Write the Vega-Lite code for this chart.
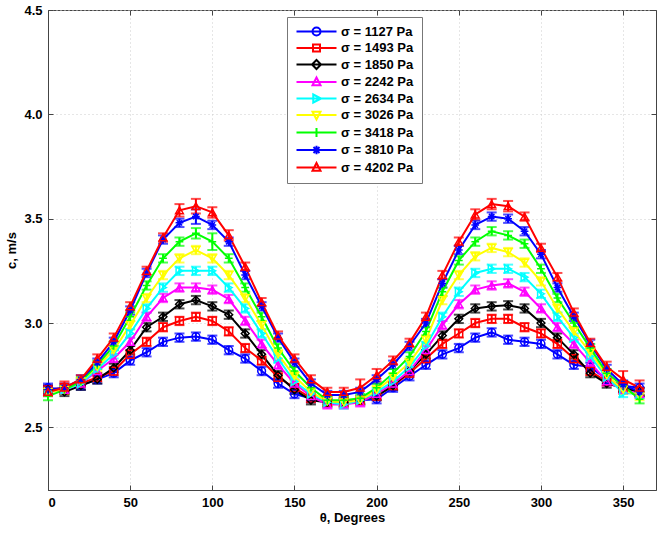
{
 "$schema": "https://vega.github.io/schema/vega-lite/v6.json",
 "width": 608, "height": 480,
 "autosize": {"type": "none"},
 "padding": {"left": 48, "top": 10, "right": 8, "bottom": 44},
 "background": "white",
 "config": {
  "font": "Liberation Sans",
  "view": {"stroke": "#444", "strokeWidth": 1},
  "axis": {"labelFont": "Liberation Sans", "labelFontWeight": "bold", "labelFontSize": 13, "labelColor": "#000", "titleFont": "Liberation Sans", "titleFontWeight": "bold", "titleFontSize": 13, "titleColor": "#000", "domainColor": "#444", "tickColor": "#444", "gridColor": "#cccccc", "gridDash": [1, 3]}
 },
 "data": {"values": [
{"t":0,"p":1127,"c":2.69,"e":0.02},{"t":0,"p":1493,"c":2.68,"e":0.02},{"t":0,"p":1850,"c":2.68,"e":0.02},{"t":0,"p":2242,"c":2.67,"e":0.02},{"t":0,"p":2634,"c":2.67,"e":0.02},{"t":0,"p":3026,"c":2.67,"e":0.02},{"t":0,"p":3418,"c":2.65,"e":0.02},{"t":0,"p":3810,"c":2.68,"e":0.02},{"t":0,"p":4202,"c":2.67,"e":0.02},
{"t":10,"p":1127,"c":2.68,"e":0.02},{"t":10,"p":1493,"c":2.69,"e":0.02},{"t":10,"p":1850,"c":2.67,"e":0.02},{"t":10,"p":2242,"c":2.68,"e":0.02},{"t":10,"p":2634,"c":2.68,"e":0.02},{"t":10,"p":3026,"c":2.68,"e":0.02},{"t":10,"p":3418,"c":2.68,"e":0.02},{"t":10,"p":3810,"c":2.69,"e":0.02},{"t":10,"p":4202,"c":2.69,"e":0.03},
{"t":20,"p":1127,"c":2.70,"e":0.02},{"t":20,"p":1493,"c":2.71,"e":0.02},{"t":20,"p":1850,"c":2.70,"e":0.02},{"t":20,"p":2242,"c":2.71,"e":0.02},{"t":20,"p":2634,"c":2.71,"e":0.02},{"t":20,"p":3026,"c":2.72,"e":0.02},{"t":20,"p":3418,"c":2.72,"e":0.02},{"t":20,"p":3810,"c":2.73,"e":0.02},{"t":20,"p":4202,"c":2.73,"e":0.02},
{"t":30,"p":1127,"c":2.73,"e":0.02},{"t":30,"p":1493,"c":2.74,"e":0.02},{"t":30,"p":1850,"c":2.73,"e":0.02},{"t":30,"p":2242,"c":2.77,"e":0.02},{"t":30,"p":2634,"c":2.78,"e":0.02},{"t":30,"p":3026,"c":2.79,"e":0.02},{"t":30,"p":3418,"c":2.80,"e":0.02},{"t":30,"p":3810,"c":2.81,"e":0.02},{"t":30,"p":4202,"c":2.83,"e":0.02},
{"t":40,"p":1127,"c":2.76,"e":0.02},{"t":40,"p":1493,"c":2.77,"e":0.02},{"t":40,"p":1850,"c":2.785,"e":0.02},{"t":40,"p":2242,"c":2.83,"e":0.02},{"t":40,"p":2634,"c":2.85,"e":0.02},{"t":40,"p":3026,"c":2.87,"e":0.02},{"t":40,"p":3418,"c":2.89,"e":0.02},{"t":40,"p":3810,"c":2.91,"e":0.02},{"t":40,"p":4202,"c":2.93,"e":0.02},
{"t":50,"p":1127,"c":2.82,"e":0.02},{"t":50,"p":1493,"c":2.85,"e":0.02},{"t":50,"p":1850,"c":2.87,"e":0.02},{"t":50,"p":2242,"c":2.91,"e":0.02},{"t":50,"p":2634,"c":2.95,"e":0.02},{"t":50,"p":3026,"c":2.99,"e":0.02},{"t":50,"p":3418,"c":3.03,"e":0.02},{"t":50,"p":3810,"c":3.06,"e":0.02},{"t":50,"p":4202,"c":3.08,"e":0.02},
{"t":60,"p":1127,"c":2.86,"e":0.02},{"t":60,"p":1493,"c":2.91,"e":0.02},{"t":60,"p":1850,"c":2.98,"e":0.02},{"t":60,"p":2242,"c":3.03,"e":0.02},{"t":60,"p":2634,"c":3.07,"e":0.02},{"t":60,"p":3026,"c":3.12,"e":0.02},{"t":60,"p":3418,"c":3.18,"e":0.02},{"t":60,"p":3810,"c":3.24,"e":0.02},{"t":60,"p":4202,"c":3.25,"e":0.02},
{"t":70,"p":1127,"c":2.91,"e":0.02},{"t":70,"p":1493,"c":2.98,"e":0.02},{"t":70,"p":1850,"c":3.03,"e":0.02},{"t":70,"p":2242,"c":3.12,"e":0.02},{"t":70,"p":2634,"c":3.17,"e":0.02},{"t":70,"p":3026,"c":3.23,"e":0.02},{"t":70,"p":3418,"c":3.31,"e":0.02},{"t":70,"p":3810,"c":3.40,"e":0.02},{"t":70,"p":4202,"c":3.41,"e":0.02},
{"t":80,"p":1127,"c":2.93,"e":0.02},{"t":80,"p":1493,"c":3.01,"e":0.02},{"t":80,"p":1850,"c":3.09,"e":0.02},{"t":80,"p":2242,"c":3.17,"e":0.02},{"t":80,"p":2634,"c":3.25,"e":0.02},{"t":80,"p":3026,"c":3.31,"e":0.02},{"t":80,"p":3418,"c":3.39,"e":0.02},{"t":80,"p":3810,"c":3.48,"e":0.02},{"t":80,"p":4202,"c":3.54,"e":0.03},
{"t":90,"p":1127,"c":2.935,"e":0.02},{"t":90,"p":1493,"c":3.03,"e":0.02},{"t":90,"p":1850,"c":3.11,"e":0.02},{"t":90,"p":2242,"c":3.17,"e":0.02},{"t":90,"p":2634,"c":3.25,"e":0.02},{"t":90,"p":3026,"c":3.35,"e":0.02},{"t":90,"p":3418,"c":3.43,"e":0.025},{"t":90,"p":3810,"c":3.51,"e":0.035},{"t":90,"p":4202,"c":3.56,"e":0.035},
{"t":100,"p":1127,"c":2.92,"e":0.02},{"t":100,"p":1493,"c":3.01,"e":0.02},{"t":100,"p":1850,"c":3.08,"e":0.02},{"t":100,"p":2242,"c":3.16,"e":0.02},{"t":100,"p":2634,"c":3.25,"e":0.02},{"t":100,"p":3026,"c":3.31,"e":0.02},{"t":100,"p":3418,"c":3.39,"e":0.04},{"t":100,"p":3810,"c":3.47,"e":0.02},{"t":100,"p":4202,"c":3.53,"e":0.025},
{"t":110,"p":1127,"c":2.87,"e":0.02},{"t":110,"p":1493,"c":2.96,"e":0.02},{"t":110,"p":1850,"c":3.04,"e":0.02},{"t":110,"p":2242,"c":3.115,"e":0.02},{"t":110,"p":2634,"c":3.17,"e":0.02},{"t":110,"p":3026,"c":3.23,"e":0.02},{"t":110,"p":3418,"c":3.31,"e":0.02},{"t":110,"p":3810,"c":3.39,"e":0.02},{"t":110,"p":4202,"c":3.42,"e":0.025},
{"t":120,"p":1127,"c":2.83,"e":0.02},{"t":120,"p":1493,"c":2.88,"e":0.02},{"t":120,"p":1850,"c":2.95,"e":0.02},{"t":120,"p":2242,"c":3.01,"e":0.02},{"t":120,"p":2634,"c":3.07,"e":0.02},{"t":120,"p":3026,"c":3.12,"e":0.02},{"t":120,"p":3418,"c":3.17,"e":0.02},{"t":120,"p":3810,"c":3.23,"e":0.02},{"t":120,"p":4202,"c":3.27,"e":0.02},
{"t":130,"p":1127,"c":2.77,"e":0.02},{"t":130,"p":1493,"c":2.82,"e":0.02},{"t":130,"p":1850,"c":2.85,"e":0.02},{"t":130,"p":2242,"c":2.90,"e":0.02},{"t":130,"p":2634,"c":2.95,"e":0.02},{"t":130,"p":3026,"c":2.99,"e":0.02},{"t":130,"p":3418,"c":3.03,"e":0.02},{"t":130,"p":3810,"c":3.08,"e":0.02},{"t":130,"p":4202,"c":3.10,"e":0.02},
{"t":140,"p":1127,"c":2.71,"e":0.02},{"t":140,"p":1493,"c":2.74,"e":0.02},{"t":140,"p":1850,"c":2.75,"e":0.02},{"t":140,"p":2242,"c":2.80,"e":0.02},{"t":140,"p":2634,"c":2.83,"e":0.02},{"t":140,"p":3026,"c":2.85,"e":0.02},{"t":140,"p":3418,"c":2.88,"e":0.02},{"t":140,"p":3810,"c":2.93,"e":0.02},{"t":140,"p":4202,"c":2.94,"e":0.02},
{"t":150,"p":1127,"c":2.66,"e":0.02},{"t":150,"p":1493,"c":2.69,"e":0.02},{"t":150,"p":1850,"c":2.68,"e":0.02},{"t":150,"p":2242,"c":2.71,"e":0.02},{"t":150,"p":2634,"c":2.72,"e":0.02},{"t":150,"p":3026,"c":2.745,"e":0.02},{"t":150,"p":3418,"c":2.77,"e":0.02},{"t":150,"p":3810,"c":2.81,"e":0.02},{"t":150,"p":4202,"c":2.83,"e":0.02},
{"t":160,"p":1127,"c":2.64,"e":0.02},{"t":160,"p":1493,"c":2.64,"e":0.02},{"t":160,"p":1850,"c":2.63,"e":0.02},{"t":160,"p":2242,"c":2.65,"e":0.02},{"t":160,"p":2634,"c":2.66,"e":0.02},{"t":160,"p":3026,"c":2.67,"e":0.02},{"t":160,"p":3418,"c":2.69,"e":0.02},{"t":160,"p":3810,"c":2.71,"e":0.02},{"t":160,"p":4202,"c":2.73,"e":0.02},
{"t":170,"p":1127,"c":2.63,"e":0.02},{"t":170,"p":1493,"c":2.62,"e":0.02},{"t":170,"p":1850,"c":2.62,"e":0.02},{"t":170,"p":2242,"c":2.61,"e":0.02},{"t":170,"p":2634,"c":2.62,"e":0.02},{"t":170,"p":3026,"c":2.625,"e":0.02},{"t":170,"p":3418,"c":2.63,"e":0.02},{"t":170,"p":3810,"c":2.655,"e":0.02},{"t":170,"p":4202,"c":2.67,"e":0.02},
{"t":180,"p":1127,"c":2.62,"e":0.02},{"t":180,"p":1493,"c":2.62,"e":0.02},{"t":180,"p":1850,"c":2.62,"e":0.02},{"t":180,"p":2242,"c":2.61,"e":0.02},{"t":180,"p":2634,"c":2.61,"e":0.02},{"t":180,"p":3026,"c":2.62,"e":0.02},{"t":180,"p":3418,"c":2.63,"e":0.02},{"t":180,"p":3810,"c":2.655,"e":0.02},{"t":180,"p":4202,"c":2.67,"e":0.02},
{"t":190,"p":1127,"c":2.63,"e":0.02},{"t":190,"p":1493,"c":2.63,"e":0.02},{"t":190,"p":1850,"c":2.63,"e":0.02},{"t":190,"p":2242,"c":2.62,"e":0.02},{"t":190,"p":2634,"c":2.63,"e":0.02},{"t":190,"p":3026,"c":2.63,"e":0.02},{"t":190,"p":3418,"c":2.64,"e":0.02},{"t":190,"p":3810,"c":2.67,"e":0.02},{"t":190,"p":4202,"c":2.69,"e":0.04},
{"t":200,"p":1127,"c":2.635,"e":0.02},{"t":200,"p":1493,"c":2.65,"e":0.02},{"t":200,"p":1850,"c":2.65,"e":0.02},{"t":200,"p":2242,"c":2.66,"e":0.02},{"t":200,"p":2634,"c":2.67,"e":0.02},{"t":200,"p":3026,"c":2.68,"e":0.02},{"t":200,"p":3418,"c":2.69,"e":0.02},{"t":200,"p":3810,"c":2.73,"e":0.02},{"t":200,"p":4202,"c":2.75,"e":0.03},
{"t":210,"p":1127,"c":2.69,"e":0.02},{"t":210,"p":1493,"c":2.70,"e":0.02},{"t":210,"p":1850,"c":2.70,"e":0.02},{"t":210,"p":2242,"c":2.71,"e":0.02},{"t":210,"p":2634,"c":2.72,"e":0.02},{"t":210,"p":3026,"c":2.74,"e":0.02},{"t":210,"p":3418,"c":2.76,"e":0.02},{"t":210,"p":3810,"c":2.80,"e":0.02},{"t":210,"p":4202,"c":2.82,"e":0.02},
{"t":220,"p":1127,"c":2.745,"e":0.02},{"t":220,"p":1493,"c":2.76,"e":0.02},{"t":220,"p":1850,"c":2.77,"e":0.02},{"t":220,"p":2242,"c":2.77,"e":0.02},{"t":220,"p":2634,"c":2.79,"e":0.02},{"t":220,"p":3026,"c":2.81,"e":0.02},{"t":220,"p":3418,"c":2.84,"e":0.02},{"t":220,"p":3810,"c":2.89,"e":0.02},{"t":220,"p":4202,"c":2.905,"e":0.02},
{"t":230,"p":1127,"c":2.80,"e":0.02},{"t":230,"p":1493,"c":2.83,"e":0.02},{"t":230,"p":1850,"c":2.85,"e":0.02},{"t":230,"p":2242,"c":2.87,"e":0.02},{"t":230,"p":2634,"c":2.89,"e":0.02},{"t":230,"p":3026,"c":2.92,"e":0.02},{"t":230,"p":3418,"c":2.96,"e":0.02},{"t":230,"p":3810,"c":3.00,"e":0.02},{"t":230,"p":4202,"c":3.03,"e":0.02},
{"t":240,"p":1127,"c":2.85,"e":0.02},{"t":240,"p":1493,"c":2.90,"e":0.02},{"t":240,"p":1850,"c":2.94,"e":0.02},{"t":240,"p":2242,"c":2.99,"e":0.02},{"t":240,"p":2634,"c":3.03,"e":0.02},{"t":240,"p":3026,"c":3.11,"e":0.02},{"t":240,"p":3418,"c":3.15,"e":0.02},{"t":240,"p":3810,"c":3.19,"e":0.02},{"t":240,"p":4202,"c":3.23,"e":0.02},
{"t":250,"p":1127,"c":2.88,"e":0.02},{"t":250,"p":1493,"c":2.95,"e":0.02},{"t":250,"p":1850,"c":3.02,"e":0.02},{"t":250,"p":2242,"c":3.09,"e":0.02},{"t":250,"p":2634,"c":3.15,"e":0.02},{"t":250,"p":3026,"c":3.23,"e":0.02},{"t":250,"p":3418,"c":3.30,"e":0.02},{"t":250,"p":3810,"c":3.35,"e":0.02},{"t":250,"p":4202,"c":3.39,"e":0.02},
{"t":260,"p":1127,"c":2.93,"e":0.02},{"t":260,"p":1493,"c":3.00,"e":0.02},{"t":260,"p":1850,"c":3.07,"e":0.02},{"t":260,"p":2242,"c":3.16,"e":0.02},{"t":260,"p":2634,"c":3.24,"e":0.02},{"t":260,"p":3026,"c":3.32,"e":0.02},{"t":260,"p":3418,"c":3.39,"e":0.02},{"t":260,"p":3810,"c":3.47,"e":0.02},{"t":260,"p":4202,"c":3.52,"e":0.025},
{"t":270,"p":1127,"c":2.955,"e":0.02},{"t":270,"p":1493,"c":3.02,"e":0.02},{"t":270,"p":1850,"c":3.08,"e":0.02},{"t":270,"p":2242,"c":3.18,"e":0.02},{"t":270,"p":2634,"c":3.26,"e":0.02},{"t":270,"p":3026,"c":3.36,"e":0.02},{"t":270,"p":3418,"c":3.44,"e":0.02},{"t":270,"p":3810,"c":3.51,"e":0.02},{"t":270,"p":4202,"c":3.57,"e":0.025},
{"t":280,"p":1127,"c":2.92,"e":0.02},{"t":280,"p":1493,"c":3.02,"e":0.02},{"t":280,"p":1850,"c":3.085,"e":0.02},{"t":280,"p":2242,"c":3.19,"e":0.02},{"t":280,"p":2634,"c":3.26,"e":0.02},{"t":280,"p":3026,"c":3.34,"e":0.02},{"t":280,"p":3418,"c":3.42,"e":0.02},{"t":280,"p":3810,"c":3.50,"e":0.02},{"t":280,"p":4202,"c":3.56,"e":0.025},
{"t":290,"p":1127,"c":2.91,"e":0.02},{"t":290,"p":1493,"c":2.98,"e":0.02},{"t":290,"p":1850,"c":3.07,"e":0.02},{"t":290,"p":2242,"c":3.15,"e":0.02},{"t":290,"p":2634,"c":3.22,"e":0.02},{"t":290,"p":3026,"c":3.29,"e":0.02},{"t":290,"p":3418,"c":3.38,"e":0.02},{"t":290,"p":3810,"c":3.44,"e":0.02},{"t":290,"p":4202,"c":3.51,"e":0.02},
{"t":300,"p":1127,"c":2.90,"e":0.02},{"t":300,"p":1493,"c":2.95,"e":0.02},{"t":300,"p":1850,"c":3.00,"e":0.02},{"t":300,"p":2242,"c":3.07,"e":0.02},{"t":300,"p":2634,"c":3.14,"e":0.02},{"t":300,"p":3026,"c":3.20,"e":0.02},{"t":300,"p":3418,"c":3.26,"e":0.02},{"t":300,"p":3810,"c":3.33,"e":0.02},{"t":300,"p":4202,"c":3.36,"e":0.02},
{"t":310,"p":1127,"c":2.85,"e":0.02},{"t":310,"p":1493,"c":2.90,"e":0.02},{"t":310,"p":1850,"c":2.93,"e":0.02},{"t":310,"p":2242,"c":2.98,"e":0.02},{"t":310,"p":2634,"c":3.03,"e":0.02},{"t":310,"p":3026,"c":3.07,"e":0.02},{"t":310,"p":3418,"c":3.12,"e":0.02},{"t":310,"p":3810,"c":3.17,"e":0.02},{"t":310,"p":4202,"c":3.22,"e":0.02},
{"t":320,"p":1127,"c":2.80,"e":0.02},{"t":320,"p":1493,"c":2.83,"e":0.02},{"t":320,"p":1850,"c":2.85,"e":0.02},{"t":320,"p":2242,"c":2.90,"e":0.02},{"t":320,"p":2634,"c":2.93,"e":0.02},{"t":320,"p":3026,"c":2.96,"e":0.02},{"t":320,"p":3418,"c":3.00,"e":0.02},{"t":320,"p":3810,"c":3.03,"e":0.02},{"t":320,"p":4202,"c":3.05,"e":0.02},
{"t":330,"p":1127,"c":2.79,"e":0.02},{"t":330,"p":1493,"c":2.77,"e":0.02},{"t":330,"p":1850,"c":2.76,"e":0.02},{"t":330,"p":2242,"c":2.81,"e":0.02},{"t":330,"p":2634,"c":2.84,"e":0.02},{"t":330,"p":3026,"c":2.86,"e":0.02},{"t":330,"p":3418,"c":2.88,"e":0.02},{"t":330,"p":3810,"c":2.90,"e":0.02},{"t":330,"p":4202,"c":2.905,"e":0.02},
{"t":340,"p":1127,"c":2.73,"e":0.02},{"t":340,"p":1493,"c":2.72,"e":0.02},{"t":340,"p":1850,"c":2.71,"e":0.02},{"t":340,"p":2242,"c":2.72,"e":0.02},{"t":340,"p":2634,"c":2.74,"e":0.02},{"t":340,"p":3026,"c":2.75,"e":0.02},{"t":340,"p":3418,"c":2.76,"e":0.02},{"t":340,"p":3810,"c":2.78,"e":0.02},{"t":340,"p":4202,"c":2.79,"e":0.025},
{"t":350,"p":1127,"c":2.70,"e":0.02},{"t":350,"p":1493,"c":2.69,"e":0.02},{"t":350,"p":1850,"c":2.69,"e":0.02},{"t":350,"p":2242,"c":2.68,"e":0.02},{"t":350,"p":2634,"c":2.665,"e":0.02},{"t":350,"p":3026,"c":2.68,"e":0.02},{"t":350,"p":3418,"c":2.70,"e":0.02},{"t":350,"p":3810,"c":2.705,"e":0.02},{"t":350,"p":4202,"c":2.73,"e":0.04},
{"t":360,"p":1127,"c":2.69,"e":0.02},{"t":360,"p":1493,"c":2.67,"e":0.02},{"t":360,"p":1850,"c":2.67,"e":0.02},{"t":360,"p":2242,"c":2.66,"e":0.02},{"t":360,"p":2634,"c":2.66,"e":0.02},{"t":360,"p":3026,"c":2.65,"e":0.02},{"t":360,"p":3418,"c":2.635,"e":0.02},{"t":360,"p":3810,"c":2.67,"e":0.02},{"t":360,"p":4202,"c":2.69,"e":0.035}
 ]},
 "layer": [
  {
   "mark": {"type": "errorbar", "ticks": {"size": 10}, "thickness": 2},
   "encoding": {
    "x": {"field": "t", "type": "quantitative", "scale": {"domain": [0, 370], "nice": false}, "axis": {"orient": "top", "labels": false, "grid": false, "domain": false, "tickSize": -5, "values": [0, 50, 100, 150, 200, 250, 300, 350], "title": null}},
    "y": {"field": "c", "type": "quantitative", "scale": {"domain": [2.2, 4.5], "nice": false, "zero": false}, "axis": {"orient": "right", "labels": false, "grid": false, "domain": false, "tickSize": -5, "values": [2.5, 3, 3.5, 4, 4.5], "title": null}},
    "yError": {"field": "e"},
    "color": {"field": "p", "type": "nominal", "legend": null, "scale": {"domain": [1127, 1493, 1850, 2242, 2634, 3026, 3418, 3810, 4202], "range": ["#0000ff", "#ff0000", "#000000", "#ff00ff", "#00ffff", "#ffff00", "#00ff00", "#0000ff", "#ff0000"]}}
   }
  },
  {
   "mark": {"type": "line", "strokeWidth": 2},
   "encoding": {
    "x": {"field": "t", "type": "quantitative", "axis": {"orient": "bottom", "title": "θ, Degrees", "tickSize": -5, "labelPadding": 11, "titlePadding": 2, "values": [0, 50, 100, 150, 200, 250, 300, 350], "grid": true}},
    "y": {"field": "c", "type": "quantitative", "axis": {"orient": "left", "title": "c, m/s", "tickSize": -5, "labelPadding": 11, "titlePadding": 5, "values": [2.5, 3, 3.5, 4, 4.5], "grid": true}},
    "color": {"field": "p", "type": "nominal", "legend": {
      "title": null, "orient": "none", "legendX": 239, "legendY": 7,
      "labelExpr": "'σ = ' + datum.label + ' Pa'",
      "labelFont": "Liberation Sans", "labelFontWeight": "bold", "labelFontSize": 13, "labelColor": "#000",
      "strokeColor": "#777", "fillColor": "white", "padding": 8,
      "symbolSize": 100, "symbolStrokeWidth": 2, "symbolOffset": 15, "labelOffset": 18, "rowPadding": 0.5,
      "encode": {"symbols": {"update": {
        "fill": {"value": "transparent"},
        "shape": {"signal": "['M-4,0L4,0M-0.8,0A0.8,0.8,0,1,0,0.8,0A0.8,0.8,0,1,0,-0.8,0','M-4,0L4,0M-0.7,-0.7H0.7V0.7H-0.7Z','M-4,0L4,0M0,-0.9L0.9,0L0,0.9L-0.9,0Z','M-4,0L4,0M0,-0.9L0.8,0.65L-0.8,0.65Z','M-4,0L4,0M0.9,0L-0.65,0.8L-0.65,-0.8Z','M-4,0L4,0M0,0.9L0.8,-0.65L-0.8,-0.65Z','M-4,0L4,0M0,-0.9V0.9','M-4,0L4,0M0,-0.85V0.85M-0.6,-0.6L0.6,0.6M-0.6,0.6L0.6,-0.6','M-4,0L4,0M0,-0.9L0.8,0.65L-0.8,0.65Z'][datum.index]"}
      }}}
    }}
   }
  },
  {
   "mark": {"type": "point", "filled": false, "size": 60, "strokeWidth": 1.5, "opacity": 1},
   "encoding": {
    "x": {"field": "t", "type": "quantitative", "axis": null},
    "y": {"field": "c", "type": "quantitative", "axis": null},
    "color": {"field": "p", "type": "nominal", "legend": null},
    "shape": {"field": "p", "type": "nominal", "legend": null, "scale": {"domain": [1127, 1493, 1850, 2242, 2634, 3026, 3418, 3810, 4202], "range": ["circle", "square", "diamond", "triangle-up", "triangle-right", "triangle-down", "M-1,0L1,0M0,-1L0,1", "M-1,0L1,0M0,-1L0,1M-0.7,-0.7L0.7,0.7M-0.7,0.7L0.7,-0.7", "triangle-up"]}}
   }
  }
 ],
 "resolve": {"axis": {"x": "independent", "y": "independent"}, "legend": {"color": "independent"}}
}
